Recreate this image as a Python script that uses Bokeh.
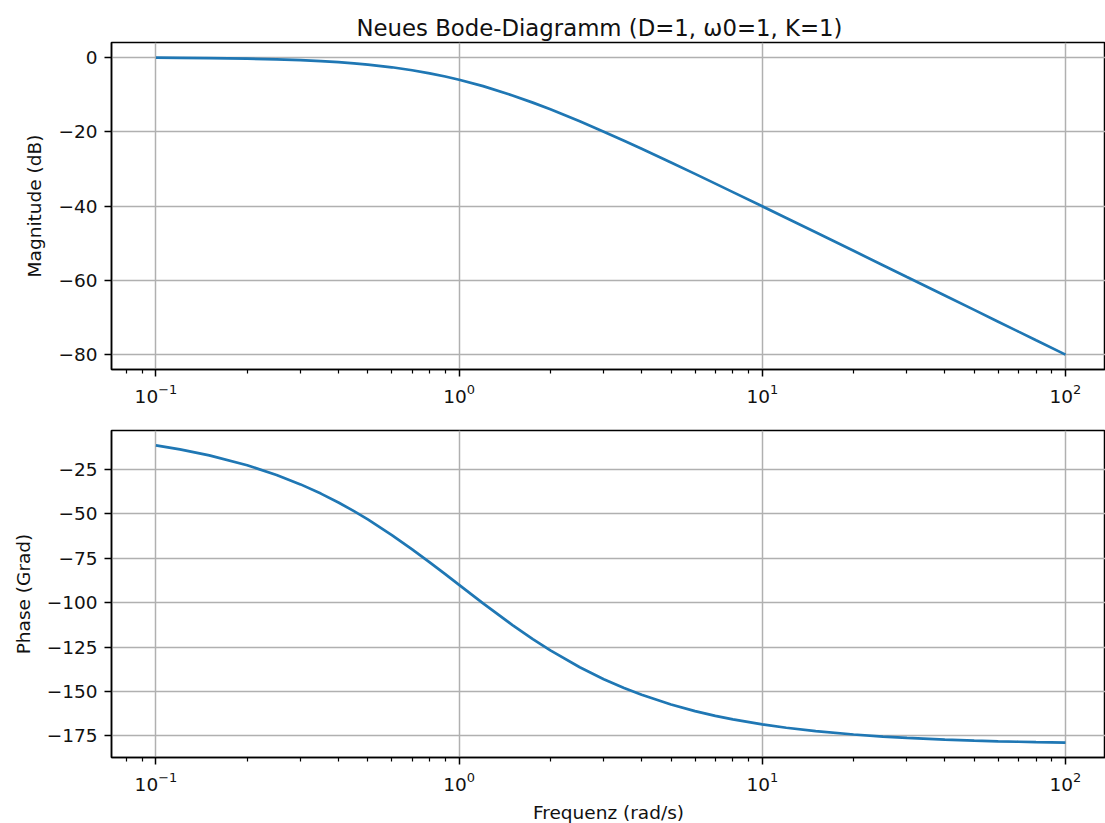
from bokeh.plotting import figure
from bokeh.layouts import column
from bokeh.models import FixedTicker, Range1d, ColumnDataSource
from bokeh.embed import file_html
from bokeh.resources import INLINE

# Frequencies (rad/s) and values
freq = [0.1, 0.12, 0.15, 0.2, 0.25, 0.3, 0.35, 0.4, 0.45, 0.5, 0.6, 0.7, 0.8, 0.9,
        1.0, 1.2, 1.5, 1.75, 2.0, 2.5, 3.0, 3.5, 4.0, 5.0, 6.0, 7.0, 8.0,
        10.0, 12.0, 15.0, 20.0, 25.0, 30.0, 40.0, 50.0, 60.0, 70.0, 80.0, 100.0]
magnitude_db = [-0.09, -0.12, -0.19, -0.34, -0.53, -0.75, -1.00, -1.29, -1.60, -1.94,
                -2.67, -3.46, -4.30, -5.15, -6.02, -7.75, -10.24, -12.18, -13.98,
                -17.21, -20.00, -22.44, -24.61, -28.30, -31.36, -33.98, -36.26,
                -40.09, -43.23, -47.08, -52.06, -55.93, -59.10, -64.09, -67.96,
                -71.13, -73.81, -76.13, -80.00]
phase_deg = [-11.42, -13.69, -17.06, -22.62, -28.07, -33.40, -38.58, -43.60, -48.46,
             -53.13, -61.93, -69.98, -77.32, -83.97, -90.00, -100.39, -112.62,
             -120.51, -126.87, -136.40, -143.13, -148.11, -151.93, -157.38,
             -161.08, -163.74, -165.75, -168.58, -170.47, -172.37, -174.28,
             -175.42, -176.18, -177.14, -177.71, -178.09, -178.36, -178.57, -178.85]

x_major_ticks = [0.1, 1.0, 10.0, 100.0]
mag_ticks = [-80, -60, -40, -20, 0]
phase_ticks = [-175, -150, -125, -100, -75, -50, -25]

title_text = "Neues Bode-Diagramm (D=1, \u03c90=1, K=1)"
mag_label = "Magnitude (dB)"
phase_label = "Phase (Grad)"
x_label = "Frequenz (rad/s)"

FONT = "DejaVu Sans"
LINE_COLOR = "#1f77b4"
GRID_COLOR = "#b0b0b0"
TEXT_COLOR = "#111111"

x_minor = [k * 10.0 ** d for d in range(-2, 3) for k in range(2, 10)]

source = ColumnDataSource(dict(freq=freq, mag=magnitude_db, phase=phase_deg))


def minus(v):
    return str(v).replace("-", "\u2212")


def make_fig(y_range, yticks, ylabel, top_border, bottom_border, title=None, xlabel=None):
    p = figure(x_axis_type="log",
               x_range=Range1d(10 ** -1.1465, 10 ** 2.132),
               y_range=y_range,
               frame_width=994, frame_height=327,
               min_border_left=111, min_border_right=0,
               min_border_top=top_border, min_border_bottom=bottom_border,
               output_backend="svg", toolbar_location=None,
               title=title)
    p.background_fill_color = "white"
    p.border_fill_color = "white"
    p.outline_line_color = "black"
    p.outline_line_width = 1.5
    p.outline_line_alpha = 1

    if title:
        p.title.text_font = FONT
        p.title.text_font_size = "22.8px"
        p.title.text_font_style = "normal"
        p.title.text_color = TEXT_COLOR
        p.title.align = "left"
        p.title.offset = 245
        p.title.standoff = 4

    p.xaxis.ticker = FixedTicker(ticks=x_major_ticks, minor_ticks=x_minor)
    p.yaxis.ticker = FixedTicker(ticks=yticks)
    p.yaxis.major_label_overrides = {t: minus(t) for t in yticks}

    for ax in (p.xaxis[0], p.yaxis[0]):
        ax.axis_line_color = "black"
        ax.axis_line_width = 1.5
        ax.major_tick_line_color = "black"
        ax.major_tick_line_width = 1.5
        ax.major_tick_out = 7
        ax.major_tick_in = 0
        ax.minor_tick_line_color = "black"
        ax.minor_tick_line_width = 1.2
        ax.minor_tick_out = 4
        ax.minor_tick_in = 0
        ax.major_label_text_font = FONT
        ax.major_label_text_font_size = "18.5px"
        ax.major_label_text_color = TEXT_COLOR
        ax.major_label_standoff = 7
        ax.axis_label_text_font = FONT
        ax.axis_label_text_font_size = "18.5px"
        ax.axis_label_text_font_style = "normal"
        ax.axis_label_text_color = TEXT_COLOR
    p.yaxis.minor_tick_line_color = None
    p.yaxis.axis_label = ylabel
    p.yaxis.axis_label_standoff = 10
    if xlabel:
        p.xaxis.axis_label = xlabel
        p.xaxis.axis_label_standoff = 8

    p.xgrid.grid_line_color = GRID_COLOR
    p.ygrid.grid_line_color = GRID_COLOR
    p.xgrid.grid_line_width = 1.5
    p.ygrid.grid_line_width = 1.5
    return p


p1 = make_fig(Range1d(-84.0, 4.0), mag_ticks, mag_label, 42, 44, title=title_text)
p1.line("freq", "mag", source=source, line_color=LINE_COLOR, line_width=2.7)

p2 = make_fig(Range1d(-187.22, -3.05), phase_ticks, phase_label, 17, 66, xlabel=x_label)
p2.line("freq", "phase", source=source, line_color=LINE_COLOR, line_width=2.7)

layout = column(p1, p2, spacing=0)

with open("out.html", "w") as f:
    f.write(file_html(layout, INLINE))
